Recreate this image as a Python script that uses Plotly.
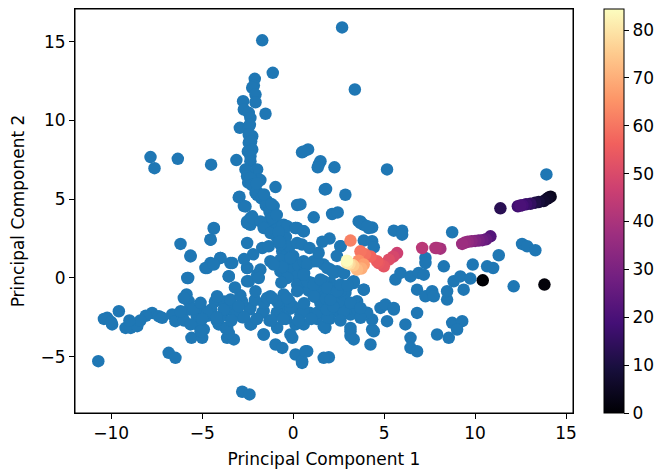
import plotly.graph_objects as go

# ---- blue background points (PC1, PC2), grouped by region ----
col_x = [-1.70, 2.69, -1.12, 3.39, -2.11, -2.16, -2.25, -2.07, -2.75, -2.07, -2.71, -2.44, -1.52, -2.35, -2.93,
         -2.44, -2.38, -2.25, -2.44, -2.44, -2.31, -2.25, -2.49, -2.35, -3.12, -2.35, -2.62, -1.98, -2.53, -2.53,
         -1.80, -2.47, -2.44, -1.89, -0.97, -2.95, -2.99, -2.07, -1.80, -1.98, -1.43, -1.62, -1.07, -2.71, -2.62,
         -1.25, -2.35, -2.53, -1.25, -0.97, -2.44, -2.25, -2.35, -1.52, -1.07, -0.52]
col_y = [15.08, 15.90, 13.02, 11.96, 12.64, 12.21, 12.07, 11.64, 11.22, 11.15, 10.69, 10.48, 10.42, 10.16, 9.53,
         9.63, 9.72, 9.00, 9.09, 8.58, 8.66, 8.16, 8.03, 7.73, 7.48, 7.40, 6.89, 6.89, 6.76, 6.46,
         6.21, 6.05, 6.13, 6.24, 5.77, 5.16, 5.11, 5.41, 5.30, 5.28, 4.88, 4.97, 4.56, 4.56, 4.54,
         4.44, 3.80, 3.49, 3.80, 3.38, 3.49, 3.91, 3.38, 3.49, 2.96, 3.38]

left_x = [-7.84, -7.62, -6.34, -4.51, -6.19, -5.64, -4.36, -4.54, -4.82, -4.54, -4.00, -3.45, -3.54, -5.77, -5.86, -5.74]
left_y = [7.67, 6.97, 7.56, 7.19, 2.16, 1.42, 3.13, 2.43, 0.63, 0.95, 1.27, 0.95, 0.10, 0.00, -1.05, -1.48]

rup_x = [0.49, 0.82, 0.58, 1.41, 1.50, 1.35, 2.27, 1.74, 1.81, 0.22, 0.40, 2.87, 5.16, 13.92, 2.14, 2.45, 1.13,
         3.60, 3.88, 4.34, 5.53, 5.99, 5.99, 8.74, 0.13, 0.58, -0.42, 0.22]
rup_y = [7.98, 8.16, 8.03, 7.21, 7.41, 7.02, 7.02, 5.62, 5.64, 4.63, 4.67, 5.28, 6.89, 6.57, 4.06, 4.16, 3.85,
         3.59, 3.38, 3.21, 3.00, 3.00, 2.75, 2.90, 3.17, 2.96, 3.28, 3.17]

rlo_x = [12.58, 12.86, 13.31, 11.30, 9.87, 10.66, 10.99, 8.28, 7.27, 7.27, 5.62, 5.90, 6.45, 6.90, 7.18, 6.81,
         7.27, 7.64, 7.73, 8.46, 8.46, 8.82, 9.19, 9.37, 9.74, 12.12, 3.88, 3.24, 2.87, 4.80, 5.07, 5.53, 4.34,
         4.34, 4.25, 6.81, 6.17, 6.45, 6.45, 6.81, 7.91, 8.55, 8.74, 9.29, 9.01, 3.15, 3.33, 1.96, 0.77, 0.49,
         3.33, 3.60, 1.77, 2.23, 2.60, 3.15, 2.60, 3.88, 4.34, 4.43, 3.70, 4.15, 3.33, 2.60, 3.15, 3.51, 5.16,
         5.53, 4.43, 3.15]
rlo_y = [2.16, 2.01, 1.76, 1.44, 0.85, 0.74, 0.63, 0.74, 1.27, 0.95, -0.10, 0.32, 0.10, 0.32, 0.21, -0.74,
         -1.16, -0.84, -1.16, -1.37, -0.84, -0.21, 0.10, -0.74, -0.04, -0.53, -0.74, -0.32, -0.95, -1.90, -1.69, -2.00, -2.64,
         -3.27, -4.22, -2.22, -2.95, -3.80, -4.44, -4.65, -3.59, -3.80, -2.85, -2.74, -3.27, -3.38, -3.90, -5.03, -4.65, -5.39,
         -1.69, -2.11, -3.17, -2.11, -2.22, -2.32, 2.01, 2.37, 2.33, 1.95, 3.49, 3.17, -0.21, -1.69, -1.90, -1.48, -2.74,
         -1.90, -3.38, -3.69]

band_x = [-10.71, -10.22, -9.58, -9.95, -9.21, -8.93, -8.57, -7.75, -7.38, -7.20, -6.65, -6.47, -6.10, -6.84, -6.47,
          -5.59, -5.00, -4.91, -3.63, -3.26, -3.54, -2.80, -2.40, -2.31, -1.62, -0.97, -0.60, -0.05, 0.13, 0.49,
          0.68, 0.13, 1.68, -3.72, -4.09,
          -5.7, -5.3, -5.1, -4.7, -4.3, -4.5, -3.8, -3.9, -3.5, -3.2, -2.8, -2.4, -2.0, -1.7, -1.3, -0.9, -0.6,
          -0.4, 0.0, 0.4, 0.9, 1.3, 1.7, 2.0, -5.4, -4.2, -6.0, -8.1, -8.4, -9.0, -10.4, -10.0,
          -6.18, -5.46, -4.73, -3.81, -3.08, -2.35, -1.62, -0.88, -0.15, 0.58, 1.32, 2.05, 2.78, 3.52, 4.07,
          -5.64, -5.09, -3.63, -2.35, -1.62, -0.88, -0.15, 0.58, 1.68, 3.15, 3.70,
          -2.8, -2.1, -1.6, -0.2, 0.6, 1.6, 2.5,
          -5.0, -4.2, -3.4, -2.7, -2.0, -1.2, -0.5, 0.3, 1.0, 1.9, 2.6]
band_y = [-5.28, -2.53, -2.11, -2.95, -3.17, -3.17, -3.06, -2.22, -2.43, -2.53, -2.32, -2.74, -2.32, -4.75, -5.07,
          -3.80, -3.80, -3.27, -3.80, -3.90, -3.49, -7.22, -7.39, -2.95, -3.59, -4.22, -4.44, -3.80, -4.86, -5.28,
          -4.65, -2.95, -5.07, -3.17, -2.95,
          -2.0, -2.4, -1.9, -2.4, -1.5, -2.0, -1.5, -2.4, -2.0, -2.2, -2.5, -2.0, -2.6, -2.2, -2.7, -2.2, -1.8,
          -2.6, -1.8, -2.3, -2.2, -2.6, -1.8, -2.6, -2.9, -2.7, -2.7, -2.4, -2.7, -2.7, -2.6, -2.8,
          -2.11, -1.95, -2.20, -2.00, -2.15, -1.90, -2.10, -2.20, -1.95, -2.10, -2.20, -2.00, -2.10, -2.00, -2.20,
          -2.95, -3.38, -3.17, -2.95, -3.59, -3.17, -3.59, -2.95, -3.06, -3.17, -2.53,
          -1.5, -1.4, -1.6, -1.5, -1.6, -1.7, -1.5,
          -2.6, -2.5, -2.7, -2.5, -2.6, -2.7, -2.5, -2.7, -2.6, -2.5, -2.7]

core_x = [-2.35, -2.27, -2.00, -1.75, -1.50, -1.30, -1.15, -1.00, -0.85, -0.60, -0.50, -0.30, -0.10, 0.20, 0.50,
          0.85, 1.20, 1.50, 1.85,
          -2.00, -1.60, -1.20, -0.90, -0.60, -0.40, -0.20, 0.00, 0.30, 0.60, 1.00, 1.40, 1.80, 2.20,
          -0.33, 0.13, 0.58, -2.53, -2.25, -1.80, -1.62, -1.25, -0.88, -0.70, -4.36, -4.54, -2.53, -1.70, -1.34,
          0.22, 0.49, -5.64, -5.82, -4.00, -3.35, -4.73, -4.36, -3.54, -2.53, -1.80, -1.25, -0.70, -0.15, 0.58,
          1.13, 1.68, 2.05, 2.42, -2.53, -1.98, -0.70, -0.33, 0.22, 0.77, 1.32, 2.05, -2.07, -1.25, -0.52, 0.22,
          1.13, 2.05, 2.78, 3.33, 3.88, -6.01, -5.09, -4.18, -3.45,
          1.68, 2.05, 2.60, 3.15, 3.70, 3.70, 4.07, 2.60,
          -0.80, -0.75, -0.60, -0.65, -0.80, -0.55,
          -2.53, -1.07, 0.77, 1.32, 1.87, 2.23, 0.58, 1.13, 1.50, 1.87, 2.42, 2.60, -1.43, -0.88, -0.33,
          -2.44, -1.89, -1.15, -2.2, -2.7, 0.9, 1.4, 2.4, 2.8, 3.0, -2.9, -3.2, -3.0, 2.0, 1.6]
core_y = [6.34, 5.90, 5.50, 5.05, 4.60, 4.20, 3.80, 3.00, 2.60, 1.70, 1.30, 0.90, 0.50, 0.10, -0.40,
          -0.80, -1.20, -1.60, -2.00,
          6.00, 5.30, 4.70, 4.00, 3.30, 2.60, 2.00, 1.40, 0.80, 0.30, -0.30, -0.80, -1.30, -1.80,
          3.28, 3.17, 2.96, 3.59, 3.80, 3.59, 3.17, 2.85, 2.53, 2.12, 3.17, 2.43, 2.22, 1.90, 2.01,
          2.22, 2.12, 1.37, 0.00, 1.27, 0.95, 0.63, 0.85, 0.11, 0.63, 0.53, 1.06, 1.16, 1.27, 1.06,
          1.06, 0.85, 0.53, 0.42, -0.21, 0.21, 0.42, 0.00, -0.42, -0.21, -0.53, -0.32, -0.84, -1.16, -1.05, -0.84,
          -1.16, -1.37, -1.05, -0.32, -0.74, -1.27, -1.58, -1.16, -1.37,
          -0.21, -0.63, -0.84, -1.58, -1.90, 3.59, 3.28, 2.01,
          2.90, 2.30, 0.70, -0.30, -1.60, -2.60,
          0.63, 0.85, 0.85, 1.06, 0.63, 0.32, 0.21, -0.42, -0.10, -0.63, -0.84, -0.42, -1.27, -1.48, -1.27,
          -0.21, 0.00, -1.27, 1.5, 1.2, 1.9, 1.6, 1.4, 0.3, -0.5, -1.1, -0.6, -1.8, 2.5, 2.3]

blue_x = col_x + left_x + rup_x + rlo_x + band_x + core_x
blue_y = col_y + left_y + rup_y + rlo_y + band_y + core_y

# ---- coloured trajectory points ----
traj_x = [10.42, 13.81, 14.15, 14.05, 13.95, 13.77, 13.50, 13.30, 11.39, 13.04, 12.80, 12.35, 12.60, 12.49,
          10.84, 10.60, 10.40, 10.20, 10.00, 9.80, 9.60, 9.45, 9.29, 8.09, 7.90, 7.82, 7.09, 5.71, 5.50,
          5.26, 4.98, 4.70, 4.61, 4.25, 3.95, 3.70, 3.15, 3.60, 3.88, 3.75, 3.51, 3.30, 3.10, 2.97, 2.95]
traj_y = [-0.15, -0.42, 5.16, 5.10, 5.02, 4.88, 4.82, 4.78, 4.42, 4.71, 4.68, 4.55, 4.62, 4.60,
          2.64, 2.45, 2.40, 2.38, 2.35, 2.33, 2.30, 2.25, 2.16, 1.86, 1.90, 1.90, 1.90, 1.58, 1.35,
          1.16, 0.74, 0.95, 1.06, 1.37, 1.50, 1.69, 2.37, 1.10, 0.85, 0.60, 0.53, 0.80, 0.90, 0.95, 1.10]
traj_val = [0, 1, 4, 5, 6, 7, 9, 11, 13, 15, 17, 18, 19, 20,
            22, 25, 27, 29, 31, 33, 35, 36, 37, 39, 40, 41, 43, 47, 49,
            51, 53, 54, 55, 57, 59, 60, 62, 64, 67, 70, 72, 75, 78, 81, 84]

x_ticks = [-10, -5, 0, 5, 10, 15]
y_ticks = [-5, 0, 5, 10, 15]
cb_ticks = [0, 10, 20, 30, 40, 50, 60, 70, 80]

FONT = "DejaVu Sans"

fig = go.Figure()
fig.add_trace(go.Scatter(
    x=blue_x, y=blue_y, mode="markers",
    marker=dict(color="#1f77b4", size=12.5, line=dict(width=0)),
    showlegend=False, hoverinfo="skip"))
fig.add_trace(go.Scatter(
    x=traj_x, y=traj_y, mode="markers",
    marker=dict(color=traj_val, colorscale="Magma", cmin=0, cmax=84.4, size=12.5,
                line=dict(width=0), showscale=True,
                colorbar=dict(x=1.063, xanchor="left", xpad=0, ypad=0, y=0.5, yanchor="middle",
                              len=1, lenmode="fraction", thickness=20,
                              outlinewidth=1, outlinecolor="black",
                              tickmode="array", tickvals=cb_ticks, ticks="outside", ticklen=5,
                              tickcolor="black", tickfont=dict(family=FONT, size=17, color="black"))),
    showlegend=False, hoverinfo="skip"))

axis_common = dict(showgrid=False, zeroline=False, showline=True, linecolor="black", linewidth=1,
                   mirror=True, ticks="outside", ticklen=5, tickcolor="black",
                   tickfont=dict(family=FONT, size=17, color="black"))
fig.update_xaxes(range=[-11.99, 15.38], tickmode="array", tickvals=x_ticks,
                 ticktext=[str(v).replace("-", "\u2212") for v in x_ticks],
                 title=dict(text="Principal Component 1", font=dict(family=FONT, size=17, color="black"), standoff=10),
                 **axis_common)
fig.update_yaxes(range=[-8.57, 17.07], tickmode="array", tickvals=y_ticks,
                 ticktext=[str(v).replace("-", "\u2212") for v in y_ticks],
                 title=dict(text="Principal Component 2", font=dict(family=FONT, size=17, color="black"), standoff=11),
                 **axis_common)
# full frame around the plotting area
fig.add_shape(type="rect", xref="paper", yref="paper", x0=0, x1=1, y0=0, y1=1,
              line=dict(color="black", width=1), fillcolor="rgba(0,0,0,0)", layer="above")
# the page adds an 8px body margin, so the figure is 8px smaller than the window
fig.update_layout(width=656, height=461, margin=dict(l=67, r=91, t=1, b=56, autoexpand=False),
                  plot_bgcolor="white", paper_bgcolor="white", font=dict(family=FONT))
fig.write_html("out.html")
